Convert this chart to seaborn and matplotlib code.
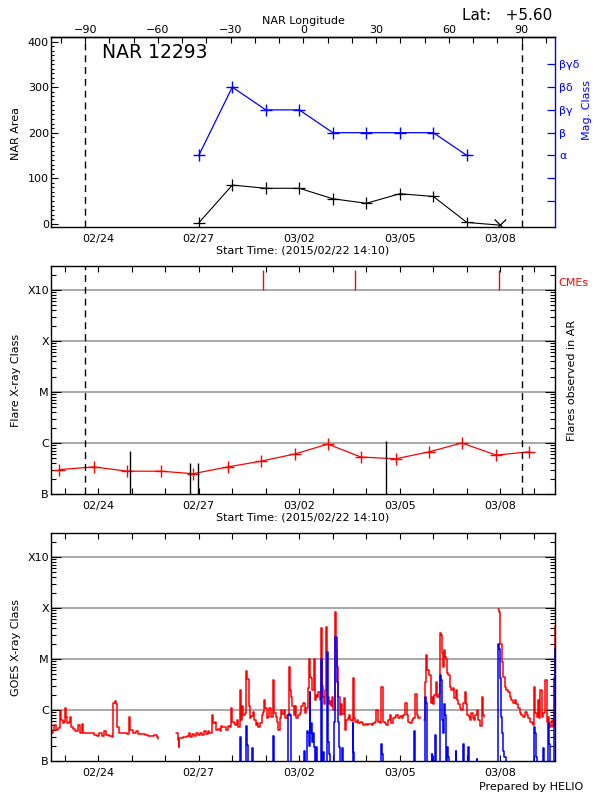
import numpy as np
import pandas as pd
import matplotlib
matplotlib.use("Agg")
import matplotlib.pyplot as plt
import matplotlib.ticker as mticker
import seaborn as sns

# ------------------------------------------------------------------ data
# all times are days since 2015-02-22 00:00
start_day = 14 / 24 + 10 / 1440          # 2015/02/22 14:10
span_days = 15.04
date_tick_days = [2, 5, 8, 11, 14]
date_tick_labels = ["02/24", "02/27", "03/02", "03/05", "03/08"]

# central meridian passage (day) and rotation rate (deg/day) of NAR 12293
cm_day = 8.12
rot_rate = 13.82
limb_lons = [-90, 90]
lon_ticks = [-90, -60, -30, 0, 30, 60, 90]
nar_title = "NAR 12293"
nar_lat = "+5.60"

# NAR area and magnetic class
nar_days = [5, 6, 7, 8, 9, 10, 11, 12, 13, 14]
nar_area = [2, 85, 78, 78, 55, 45, 66, 60, 3, -3]
nar_kind = ["obs"] * 9 + ["lim"]
mag_days = [5, 6, 7, 8, 9, 10, 11, 12, 13]
mag_class = ["α", "βδ", "βγ", "βγ", "β", "β", "β", "β", "α"]
mag_levels = ["α", "β", "βγ", "βδ", "βγδ"]
mag_level_pos = [150, 200, 250, 300, 350]

# flares observed in AR (daily background + events) and CMEs
bg_days = [0.83, 1.87, 2.86, 3.87, 4.83, 5.87, 6.86, 7.87, 8.85, 9.84,
           10.88, 11.87, 12.85, 13.87, 14.85]
bg_class = ["B3.0", "B3.4", "B2.8", "B2.8", "B2.5", "B3.4", "B4.4", "B6.1",
            "B9.5", "B5.3", "B4.9", "B6.7", "C1.0", "B5.8", "B6.7"]
flare_days = [2.95, 4.74, 4.98, 10.58]
flare_class = ["B7.0", "B4.1", "B4.1", "C1.1"]
cme_days = [6.91, 9.66, 13.96]

# GOES 1-8 A (long) channel
goes_long_days = [
    0.60, 0.64, 0.68, 0.74, 0.81, 0.86, 0.89, 0.94, 0.98, 1.01, 1.04, 1.08, 1.12, 1.16,
    1.19, 1.24, 1.31, 1.38, 1.41, 1.45, 1.52, 1.55, 1.63, 1.73, 1.80, 1.88, 1.95, 2.03,
    2.10, 2.18, 2.23, 2.33, 2.40, 2.43, 2.45, 2.50, 2.53, 2.57, 2.62, 2.70, 2.80, 2.87,
    2.93, 2.96, 3.05, 3.12, 3.19, 3.29, 3.39, 3.49, 3.59, 3.66, 3.74, 3.79,
    4.33, 4.37, 4.40, 4.42, 4.46, 4.53, 4.58, 4.66, 4.71, 4.74, 4.80, 4.86, 4.93, 4.97,
    5.03, 5.10, 5.15, 5.22, 5.27, 5.32, 5.37, 5.40, 5.43, 5.47, 5.52, 5.57, 5.62, 5.65,
    5.69, 5.75, 5.82, 5.87, 5.92, 5.97, 6.00, 6.05, 6.09, 6.13, 6.17, 6.22, 6.25, 6.29,
    6.33, 6.37, 6.42, 6.45, 6.49, 6.53, 6.57, 6.62, 6.65, 6.70, 6.74, 6.78, 6.84, 6.88,
    6.91, 6.96, 6.99, 7.04, 7.08, 7.11, 7.16, 7.21, 7.24, 7.29, 7.33, 7.36, 7.41, 7.46,
    7.49, 7.54, 7.58, 7.64, 7.68, 7.72, 7.76, 7.79, 7.83, 7.86, 7.91, 7.96, 8.01, 8.06,
    8.11, 8.16, 8.21, 8.26, 8.29, 8.32, 8.35, 8.39, 8.43, 8.47, 8.50, 8.53, 8.57, 8.61,
    8.65, 8.67, 8.71, 8.74, 8.78, 8.81, 8.84, 8.88, 8.91, 8.94, 8.98, 9.02, 9.06, 9.09,
    9.12, 9.16, 9.20, 9.24, 9.28, 9.32, 9.36, 9.40, 9.44, 9.48, 9.52, 9.56, 9.59, 9.62,
    9.66, 9.71, 9.76, 9.81, 9.86, 9.91, 9.96, 10.01, 10.06, 10.16, 10.21, 10.26, 10.30,
    10.35, 10.40, 10.45, 10.50, 10.55, 10.60, 10.65, 10.70, 10.75, 10.80, 10.85, 10.90,
    10.95, 11.00, 11.05, 11.10, 11.15, 11.20, 11.25, 11.30, 11.35, 11.40, 11.45, 11.50,
    11.55, 11.60,
    11.73, 11.75, 11.78, 11.82, 11.87, 11.93, 11.96, 12.00, 12.02, 12.08, 12.12, 12.16,
    12.19, 12.23, 12.26, 12.29, 12.32, 12.35, 12.39, 12.42, 12.45, 12.49, 12.54, 12.59,
    12.63, 12.67, 12.71, 12.75, 12.79, 12.84, 12.89, 12.93, 12.97, 13.01, 13.05, 13.09,
    13.13, 13.17, 13.21, 13.25, 13.29, 13.34, 13.39, 13.44, 13.49, 13.52,
    13.93, 13.96, 13.98, 14.00, 14.04, 14.08, 14.13, 14.18, 14.23, 14.28, 14.33, 14.38,
    14.43, 14.48, 14.53, 14.58, 14.63, 14.68, 14.73, 14.78, 14.83, 14.88, 14.93, 14.98,
    15.01, 15.04, 15.08, 15.11, 15.15, 15.18, 15.23, 15.28, 15.33, 15.38, 15.43, 15.46,
    15.50, 15.53, 15.56, 15.60, 15.62]
goes_long_class = [
    "B3.6", "B4.1", "B5.1", "B4.1", "B4.4", "B9.7", "B6.4", "B5.6", "B5.9", "C1.1", "B7.4", "B5.5", "B5.9", "B7.2",
    "B4.7", "B4.2", "B3.8", "B3.8", "B5.1", "B3.6", "B5.3", "B3.5", "B3.6", "B3.5", "B3.6", "B3.2", "B3.1", "B3.5",
    "B3.1", "B3.9", "B3.2", "B3.1", "B2.9", "B3.4", "C1.4", "C1.5", "C1.3", "B4.7", "B3.6", "B3.5", "B3.6", "B3.4",
    "B7.4", "B4.1", "B3.6", "B3.8", "B3.4", "B3.4", "B3.2", "B3.1", "B3.1", "B3.2", "B3.0", "B2.7",
    "B3.5", "B2.6", "B1.9", "B2.8", "B2.8", "B2.9", "B3.0", "B3.1", "B3.5", "B3.0", "B3.4", "B3.1", "B3.5", "B3.2",
    "B3.6", "B3.2", "B3.8", "B3.4", "B3.9", "B3.5", "B3.6", "B8.0", "B5.5", "B5.9", "B4.1", "B4.2", "B3.9", "B4.9",
    "B4.6", "B4.7", "B4.1", "B4.9", "B4.7", "C1.1", "B5.9", "B5.6", "B5.1", "B6.4", "B4.7", "C2.5", "B6.4", "C1.2",
    "B8.0", "B8.6", "C5.8", "C4.0", "C1.2", "B6.9", "B7.6", "B9.3", "B6.4", "B5.1", "B5.5", "B4.6", "B5.5", "B8.0",
    "B9.3", "C1.6", "C1.1", "B6.9", "B7.2", "C1.1", "B7.2", "C3.9", "B8.6", "B7.4", "B5.9", "B4.1", "B6.9", "C1.0",
    "B8.3", "C1.0", "B6.9", "B8.0", "C6.9", "C2.5", "C1.8", "C1.2", "B8.0", "C1.2", "B6.9", "B8.0", "B8.6", "C1.2",
    "C1.35", "B8.6", "C1.1", "C2.7", "M1.0", "C4.5", "C4.2", "C2.5", "M1.0", "C1.6", "C2.0", "C1.8", "C2.3", "C1.6",
    "M4.0", "C2.9", "C1.8", "C1.3", "C2.5", "M4.3", "C1.8", "C1.3", "C1.5", "C1.2", "C1.8", "C1.0", "M8.5", "M1.5",
    "C7.1", "C1.8", "B8.0", "C1.3", "B8.3", "C1.7", "B4.1", "B6.4", "B6.9", "B8.0", "B6.4", "B6.2", "C4.2", "B6.9",
    "B5.9", "B6.4", "B5.5", "B5.9", "B5.5", "B5.1", "B5.3", "B5.1", "B5.3", "B5.1", "B5.5", "B5.9", "C1.0",
    "B5.9", "B5.6", "C2.85", "B5.9", "B5.5", "B5.1", "B6.4", "B8.0", "B5.5", "B6.9", "B7.4", "B8.0",
    "B6.9", "B7.6", "B6.9", "B8.0", "C1.35", "B8.0", "B5.9", "B5.5", "B6.4", "B6.9", "C2.1", "B8.0",
    "B6.9", "B7.4",
    "B6.4", "C3.6", "M1.2", "C6.1", "C4.8", "C1.35", "C1.8", "C1.3", "C2.0", "C3.6", "C1.8", "C2.1",
    "M3.2", "M2.9", "M1.3", "C7.1", "M1.5", "M1.1", "M1.0", "C5.2", "C4.8", "C2.85", "C2.5", "C2.7",
    "C1.7", "C2.5", "C1.6", "C1.3", "C1.1", "C1.0", "C1.35", "C2.3", "C1.3", "B8.0", "B7.4", "B6.4",
    "B8.6", "B6.9", "B6.4", "B8.0", "C1.0", "B6.4", "B4.9", "C1.8", "B8.0", "B7.4",
    "M9.4", "M8.5", "M2.9", "M2.0", "C8.9", "C4.5", "C2.85", "C2.5", "C2.3", "C1.8", "C1.6", "C1.35",
    "C1.6", "C1.3", "C1.1", "B8.6", "B8.0", "B7.4", "B9.3", "B8.0", "B6.9", "B5.9", "B5.5", "B5.1",
    "C2.85", "B8.6", "B7.4", "C1.6", "B6.9", "C2.5", "B7.4", "B8.6", "C3.9", "B5.9", "B7.4", "B4.7",
    "B5.9", "B6.4", "B4.7", "B4.7", "M4.5"]
goes_long_gaps = [(3.79, 4.33), (11.60, 11.73), (13.52, 13.93)]

# GOES 0.5-4 A (short) channel ("A5" = below the B level)
goes_short_days = [
    0.59, 6.22, 6.24, 6.26, 6.40, 6.42, 6.44, 6.46, 6.58, 6.60, 6.62, 7.20, 7.22, 7.24,
    7.64, 7.66, 7.69, 7.72, 7.74, 8.12, 8.14, 8.16, 8.20, 8.22, 8.25, 8.28, 8.31, 8.33,
    8.36, 8.39, 8.42, 8.44, 8.47, 8.50, 8.53, 8.64, 8.65, 8.67, 8.69, 8.72, 8.75, 8.82,
    8.83, 8.85, 8.88, 8.91, 8.99, 9.04, 9.08, 9.11, 9.14, 9.17, 9.20, 9.27, 9.28, 9.29,
    9.58, 9.59, 9.61, 9.63, 10.44, 10.45, 10.47, 10.49, 11.42, 11.43, 11.44, 11.73, 11.74,
    11.75, 11.78, 11.80, 11.82, 11.94, 11.95, 11.97, 12.04, 12.05, 12.07, 12.18, 12.19,
    12.22, 12.25, 12.29, 12.32, 12.35, 12.38, 12.42, 12.45, 12.47, 12.66, 12.67, 12.69,
    12.88, 12.89, 12.91, 13.03, 13.04, 13.06, 13.28, 13.29, 13.31, 13.92, 13.93, 13.95,
    13.98, 14.01, 14.04, 14.07, 14.12, 14.16, 14.99, 15.00, 15.03, 15.06, 15.09, 15.27,
    15.28, 15.30, 15.41, 15.43, 15.46, 15.49, 15.58, 15.60, 15.62]
goes_short_class = [
    "A5", "A5", "B3.0", "A5", "A5", "B4.9", "B2.1", "A5", "A5", "B1.8", "A5", "A5", "B3.1", "A5",
    "A5", "B8.0", "B8.3", "B8.0", "A5", "A5", "B1.6", "A5", "A5", "B3.8", "B3.5", "B2.0", "C2.3", "B3.5",
    "B5.5", "B2.4", "B3.5", "B1.9", "A5", "B1.9", "A5", "A5", "M1.0", "B3.0", "A5", "B1.5", "A5", "A5",
    "M1.4", "B2.4", "B1.4", "A5", "A5", "B5.9", "M2.7", "C3.6", "B5.9", "B1.9", "A5", "A5", "B1.8", "A5",
    "A5", "B5.5", "B1.5", "A5", "A5", "B2.2", "B1.4", "A5", "A5", "B3.8", "A5", "A5", "B2.4",
    "C1.8", "C1.35", "B1.4", "A5", "A5", "B1.4", "A5", "A5", "B3.2", "A5", "A5", "C4.8",
    "C3.9", "B6.4", "B3.5", "C1.3", "B8.0", "A5", "B1.9", "B1.2", "A5", "A5", "B1.6", "A5",
    "A5", "B2.2", "A5", "A5", "B1.9", "A5", "A5", "B1.1", "A5", "A5", "M2.0", "M1.6",
    "C4.2", "B7.4", "B3.5", "B1.6", "B1.2", "A5", "A5", "B4.7", "B3.5", "B1.2", "A5", "A5",
    "B1.8", "A5", "A5", "B5.5", "B2.2", "A5", "A5", "C4.2", "M1.6"]

class_ticks = ["B", "C", "M", "X", "X10"]

# ------------------------------------------------------------------ helpers
CLASS_BASE = {"A": 1e-8, "B": 1e-7, "C": 1e-6, "M": 1e-5, "X": 1e-4}


def to_flux(c):
    return float(c[1:]) * CLASS_BASE[c[0]]


def day_to_lon(d):
    return (np.asarray(d) - cm_day) * rot_rate


def lon_to_day(lon):
    return np.asarray(lon) / rot_rate + cm_day


# ------------------------------------------------------------------ style
sns.set_theme(style="white")
plt.rcParams["font.family"] = ["DejaVu Sans"]
plt.rcParams.update({
    "axes.edgecolor": "black", "axes.linewidth": 1.0, "text.color": "black",
    "xtick.color": "black", "ytick.color": "black", "axes.labelcolor": "black",
    "xtick.labelsize": 8, "ytick.labelsize": 8, "axes.labelsize": 8,
})

fig = plt.figure(figsize=(6, 8), dpi=100)
L, W = 51 / 600, 504 / 600
ax1 = fig.add_axes([L, 1 - 227 / 800, W, 190 / 800])
ax2 = fig.add_axes([L, 1 - 494 / 800, W, 228 / 800])
ax3 = fig.add_axes([L, 1 - 761 / 800, W, 228 / 800])
x_lo, x_hi = start_day, start_day + span_days
limb_days = lon_to_day(limb_lons)
start_label = "Start Time: (2015/02/22 14:10)"
dash = (0, (5, 3.5))

for ax in (ax1, ax2, ax3):
    ax.set_xlim(x_lo, x_hi)
    ax.set_xticks(date_tick_days, date_tick_labels)
    ax.xaxis.set_minor_locator(mticker.MultipleLocator(1))
    ax.tick_params(axis="x", which="both", direction="in", length=4.5, width=0.8, pad=5)

# ------------------------------------------------------------------ panel 1
nar_df = pd.DataFrame({"day": nar_days, "area": nar_area, "kind": nar_kind})
sns.lineplot(data=nar_df, x="day", y="area", color="black", lw=0.8, ax=ax1,
             sort=False, estimator=None)
sns.scatterplot(data=nar_df, x="day", y="area", style="kind",
                markers={"obs": "+", "lim": "x"}, color="black", s=70,
                linewidth=0.9, ax=ax1, legend=False)
mag_df = pd.DataFrame({"day": mag_days,
                       "level": [mag_level_pos[mag_levels.index(c)] for c in mag_class]})
sns.lineplot(data=mag_df, x="day", y="level", color="blue", lw=0.9, ax=ax1,
             sort=False, estimator=None, marker="+", markersize=9, mew=1.0, mec="blue")
for d in limb_days:
    ax1.axvline(d, color="black", lw=1.0, ls=dash)
ax1.set_ylim(-7, 410)
ax1.yaxis.set_major_locator(mticker.MultipleLocator(100))
ax1.yaxis.set_minor_locator(mticker.MultipleLocator(10))
ax1.tick_params(axis="y", which="major", direction="in", length=5, width=0.8, pad=1.5)
ax1.tick_params(axis="y", which="minor", direction="in", length=2.5, width=0.8)
ax1.tick_params(right=False, top=False, which="both")
ax1.spines["right"].set_visible(False)
ax1.set_xlabel(start_label, labelpad=1)
ax1.set_ylabel("")

ax1r = ax1.twinx()
ax1r.set_ylim(ax1.get_ylim())
ax1r.set_yticks([50, 100] + mag_level_pos, ["", ""] + mag_levels)
ax1r.tick_params(axis="y", direction="in", length=6, width=0.9, colors="blue", pad=3)
for s in ("left", "top", "bottom"):
    ax1r.spines[s].set_visible(False)
ax1r.spines["right"].set_color("blue")
ax1r.set_ylabel("")

sec = ax1.secondary_xaxis("top", functions=(day_to_lon, lon_to_day))
sec.xaxis.set_major_locator(mticker.FixedLocator(lon_ticks))
sec.xaxis.set_minor_locator(mticker.FixedLocator(np.arange(-100, 101, 10)))
sec.tick_params(which="both", direction="in", length=4.5, width=0.8, pad=1.5, labelsize=8)
sec.set_xlabel("NAR Longitude", fontsize=8, labelpad=1)

# ------------------------------------------------------------------ log panels
def setup_class_axis(ax):
    ax.set_yscale("log")
    ax.set_ylim(1e-7, 2.95e-3)
    ax.set_yticks([1e-7, 1e-6, 1e-5, 1e-4, 1e-3], class_ticks)
    ax.yaxis.set_minor_locator(mticker.LogLocator(base=10, subs=np.arange(2, 10)))
    ax.yaxis.set_minor_formatter(mticker.NullFormatter())
    ax.tick_params(axis="y", which="major", direction="in", length=7, width=0.8,
                   pad=1.5, left=True, right=True)
    ax.tick_params(axis="y", which="minor", direction="in", length=3.5, width=0.8,
                   left=True, right=True)
    ax.tick_params(axis="x", which="both", top=True, bottom=True)
    for lvl in [1e-6, 1e-5, 1e-4, 1e-3]:
        ax.axhline(lvl, color="#9a9a9a", lw=1.2, zorder=0)
    ax.set_ylabel("")


# panel 2
bg_df = pd.DataFrame({"day": bg_days, "flux": [to_flux(c) for c in bg_class]})
sns.lineplot(data=bg_df, x="day", y="flux", color="red", lw=0.9, ax=ax2, sort=False,
             estimator=None, marker="+", markersize=9, mew=1.0, mec="red")
ax2.vlines(flare_days, 1e-7, [to_flux(c) for c in flare_class], color="black", lw=1.0)
ax2.vlines(cme_days, 1e-3, 2.5e-3, color="red", lw=1.0)
for d in limb_days:
    ax2.axvline(d, color="black", lw=1.0, ls=dash)
setup_class_axis(ax2)
ax2.set_xlabel(start_label, labelpad=1)

# panel 3
long_df = pd.DataFrame({"day": goes_long_days,
                        "flux": [to_flux(c) for c in goes_long_class]})
long_df["seg"] = [sum(d > g0 for g0, g1 in goes_long_gaps) for d in goes_long_days]
short_df = pd.DataFrame({"day": goes_short_days,
                         "flux": [to_flux(c) for c in goes_short_class]})
sns.lineplot(data=long_df, x="day", y="flux", units="seg", estimator=None, sort=False,
             color="red", lw=1.1, ax=ax3, legend=False, drawstyle="steps-post")
sns.lineplot(data=short_df, x="day", y="flux", estimator=None, sort=False,
             color="blue", lw=1.1, ax=ax3, legend=False, drawstyle="steps-post")
setup_class_axis(ax3)
ax3.set_xlabel("")

# ------------------------------------------------------------------ texts
fig.text(102 / 600, 1 - 52 / 800, nar_title, fontsize=13.5, ha="left", va="center")
fig.text(552 / 600, 1 - 15 / 800, "Lat:   " + nar_lat, fontsize=11, ha="right", va="center")
fig.text(16 / 600, 1 - 133 / 800, "NAR Area", rotation=90, fontsize=8, ha="center", va="center")
fig.text(587 / 600, 1 - 110 / 800, "Mag. Class", rotation=90, fontsize=8, ha="center",
         va="center", color="blue")
fig.text(16 / 600, 1 - 380 / 800, "Flare X-ray Class", rotation=90, fontsize=8,
         ha="center", va="center")
fig.text(572 / 600, 1 - 380 / 800, "Flares observed in AR", rotation=90, fontsize=8,
         ha="center", va="center")
fig.text(573 / 600, 1 - 283 / 800, "CMEs", fontsize=8, ha="center", va="center", color="red")
fig.text(16 / 600, 1 - 647 / 800, "GOES X-ray Class", rotation=90, fontsize=8,
         ha="center", va="center")
fig.text(583 / 600, 1 - 787 / 800, "Prepared by HELIO", fontsize=8, ha="right", va="center")

fig.savefig("out.png", dpi=100)
